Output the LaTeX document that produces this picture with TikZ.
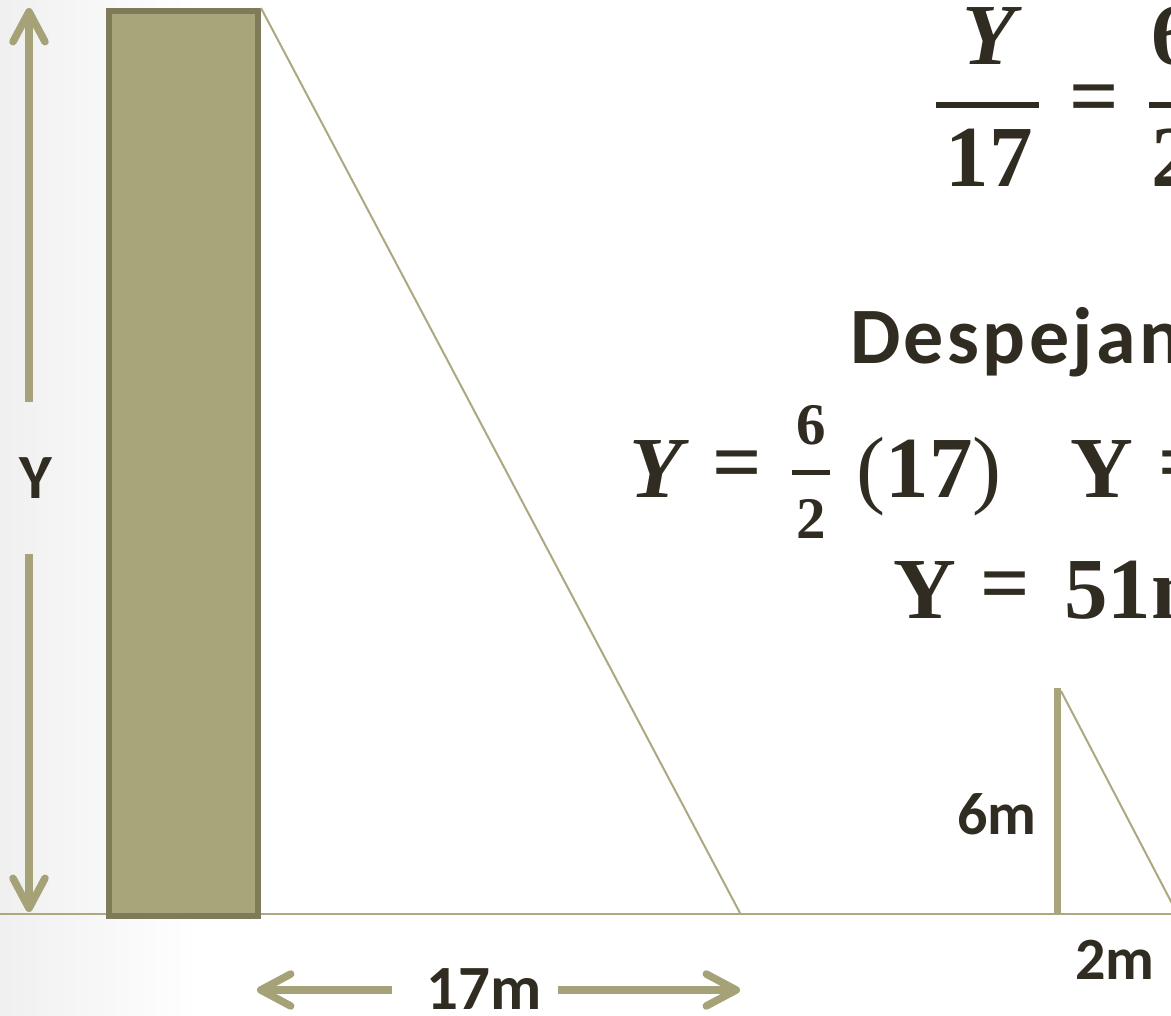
\documentclass[tikz,border=0pt]{standalone}
\usepackage{fontspec}
\setmainfont{Liberation Serif}
\newfontfamily\calfont{Carlito}
\newfontfamily\calwide[LetterSpace=4.2]{Carlito}
\usetikzlibrary{arrows.meta}
\definecolor{khaki}{HTML}{A8A57B}
\definecolor{khakidark}{HTML}{7E7B58}
\definecolor{arrowc}{HTML}{A6A277}
\definecolor{groundc}{HTML}{ACA880}
\definecolor{ink}{HTML}{312C21}
\newcommand\setfs[1]{\fontsize{#1}{#1}\selectfont}
\begin{document}
\begin{tikzpicture}[x=1pt,y=-1pt,
  lbl/.style={font=\calfont\bfseries\setfs{#1}, text=ink, inner sep=0pt},
  eqbig/.style={font=\bfseries\setfs{87}, text=ink, inner sep=0pt},
  eqsmall/.style={font=\bfseries\setfs{59}, text=ink, inner sep=0pt},
  dimarrow/.style={draw=arrowc, line width=7.5pt, -{Straight Barb[length=30pt,width=32pt,round]}},
  groundline/.style={draw=groundc, line width=2.8pt},
  slant/.style={draw=groundc, line width=2pt},
  postline/.style={draw=khaki, line width=7pt},
  towerbox/.style={draw=khakidark, fill=khaki, line width=6pt, inner sep=0pt},
  fracbar/.style={fill=ink}]
\useasboundingbox (0,0) rectangle (1171,1016);
\clip (0,0) rectangle (1171,1016);
\shade[left color=black!6, right color=white] (0,0) rectangle (200,1016);

% ground
\coordinate (groundL) at (0,914);
\coordinate (groundR) at (1171,914);
\draw[groundline] (groundL) -- (groundR);

% tower and its shadow line
\node[towerbox, anchor=north west, minimum width=149pt, minimum height=905pt] (tower) at (106,8) {};
\coordinate (bigfoot) at (740,913);
\draw[slant] (tower.north east) -- (bigfoot);

% small post and its shadow line
\coordinate (postTop) at (1057,688);
\coordinate (postBot) at (1057,914);
\draw[postline] (postBot) -- (postTop);
\coordinate (postTip) at (1061,691);
\coordinate (smallfoot) at (1177,913);
\draw[slant] (postTip) -- (smallfoot);

% vertical dimension Y
\coordinate (ytop) at (29,8);
\coordinate (ybot) at (29,912);
\node[lbl=63, minimum height=152pt] (ylab) at (36,478) {Y};
\draw[dimarrow] (ytop |- ylab.north) -- (ytop);
\draw[dimarrow] (ybot |- ylab.south) -- (ybot);

% horizontal dimension 17m
\node[lbl=63] (l17) at (484,989) {17m};
\coordinate (aL) at (392,990);
\coordinate (aR) at (558,990);
\coordinate (tipL) at (257,990);
\coordinate (tipR) at (740,990);
\draw[dimarrow] (aL) -- (tipL);
\draw[dimarrow] (aR) -- (tipR);

% small triangle labels
\node[lbl=60] (l6) at (997,814) {6m};
\node[lbl=60] (l2) at (1115,960) {2m};

% top equation Y/17 = 6/2
\node[eqbig, anchor=base] (ty) at (989,65) {\itshape Y};
\fill[fracbar] (936,102) rectangle (1039,108);
\node[eqbig, anchor=base] (t17) at (989,187) {17};
\node[eqbig] (teq) at (1094,105) {=};
\node[eqbig, anchor=base west] (t6) at (1151,65) {6};
\fill[fracbar] (1149,102) rectangle (1180,108);
\node[eqbig, anchor=base west] (t2) at (1151,187) {2};

% Despejando
\node[font=\calwide\bfseries\setfs{80}, text=ink, inner sep=0pt, anchor=base west] (desp) at (850,364) {Despejando};

% line 2
\node[eqbig, anchor=base] (m2y) at (656,497) {\itshape Y};
\node[eqbig] (m2eq) at (737,471) {=};
\node[eqsmall, anchor=base] (m2n) at (811,445) {6};
\fill[fracbar] (792,469.5) rectangle (830,474.5);
\node[eqsmall, anchor=base] (m2d) at (811,538) {2};
\node[eqbig, anchor=base] (m2p) at (929,497) {{\mdseries(}17{\mdseries)}};
\node[eqbig, anchor=base] (m2y2) at (1102,497) {Y};
\node[eqbig] (m2eq2) at (1183,471) {=};

% line 3
\node[eqbig, anchor=base] (m3y) at (925,618) {Y};
\node[eqbig] (m3eq) at (1005,592) {=};
\node[eqbig, anchor=base west] (m3v) at (1064,618) {51m};
\end{tikzpicture}
\end{document}
